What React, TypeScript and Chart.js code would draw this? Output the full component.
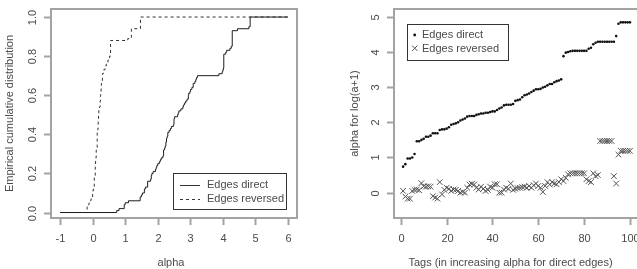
import React, { useEffect, useRef } from "react";
import { Chart, registerables } from "chart.js";
Chart.register(...registerables);

// ---------- data ----------
const directAlpha = [
  0.74, 0.81, 0.97, 0.97, 1.0, 1.1, 1.46, 1.46, 1.5, 1.53,
  1.59, 1.59, 1.62, 1.69, 1.69, 1.69, 1.78, 1.8, 1.8, 1.82,
  1.86, 1.93, 1.95, 1.97, 2.0, 2.05, 2.08, 2.11, 2.16, 2.18,
  2.18, 2.18, 2.21, 2.23, 2.25, 2.25, 2.27, 2.27, 2.29, 2.31,
  2.31, 2.35, 2.39, 2.42, 2.48, 2.5, 2.5, 2.5, 2.52, 2.61,
  2.63, 2.65, 2.71, 2.77, 2.79, 2.82, 2.86, 2.9, 2.94, 2.94,
  2.95, 2.99, 3.01, 3.05, 3.09, 3.09, 3.14, 3.17, 3.19, 3.22,
  3.88, 3.98, 4.0, 4.02, 4.03, 4.03, 4.03, 4.03, 4.03, 4.03,
  4.03, 4.09, 4.12, 4.22, 4.26, 4.29, 4.29, 4.29, 4.29, 4.29,
  4.29, 4.29, 4.29, 4.45, 4.8, 4.84, 4.84, 4.84, 4.84, 4.84,
];
const reversedAlpha = [
  0.05, -0.11, -0.17, -0.17, 0.05, 0.08, 0.09, 0.07, 0.27, 0.18,
  0.17, 0.18, 0.17, -0.1, -0.14, -0.17, 0.3, -0.05, 0.08, 0.14,
  0.11, 0.05, 0.09, 0.08, 0.05, 0.0, 0.02, 0.0, 0.14, 0.23,
  0.25, 0.23, 0.14, 0.09, 0.17, 0.11, 0.05, 0.08, 0.17, 0.14,
  0.24, 0.24, 0.0, 0.0, 0.09, 0.14, 0.11, 0.26, 0.08, 0.11,
  0.13, 0.14, 0.16, 0.17, 0.14, 0.19, 0.14, 0.21, 0.26, 0.19,
  0.14, 0.02, 0.19, 0.3, 0.23, 0.3, 0.26, 0.24, 0.3, 0.38,
  0.33, 0.42, 0.52, 0.55, 0.55, 0.55, 0.55, 0.55, 0.55, 0.55,
  0.38, 0.33, 0.3, 0.55, 0.47, 0.5, 1.47, 1.47, 1.47, 1.47,
  1.47, 1.47, 0.47, 0.26, 1.08, 1.19, 1.19, 1.19, 1.19, 1.19,
];

const ecdfXTicks = [-1, 0, 1, 2, 3, 4, 5, 6];
const ecdfYTicks = [0, 0.2, 0.4, 0.6, 0.8, 1.0];
const ecdfYLabels = ["0.0", "0.2", "0.4", "0.6", "0.8", "1.0"];
const tagTicks = [0, 20, 40, 60, 80, 100];
const alphaTicks = [0, 1, 2, 3, 4, 5];
const seriesNames = ["Edges direct", "Edges reversed"];

// ---------- helpers ----------
const FONT = '11px "Liberation Sans", Arial, sans-serif';
const TEXT = "#4a4a4a";
const AXIS = "#a3a3a3";

function ecdfPoints(values: number[], from: number, to: number) {
  const s = [...values].sort((a, b) => a - b);
  const n = s.length;
  const pts: { x: number; y: number }[] = [{ x: from, y: 0 }];
  for (let i = 0; i < n; i++) {
    if (i + 1 < n && s[i + 1] === s[i]) continue;
    pts.push({ x: s[i], y: (i + 1) / n });
  }
  pts.push({ x: to, y: 1 });
  return pts;
}

type AxesOpts = {
  xTicks: number[];
  xLabels: string[];
  yTicks: number[];
  yLabels: string[];
  xTitle: string;
  xTitleX: number;
  yTitle: string;
  yTitleX: number;
  legend: (ctx: CanvasRenderingContext2D) => void;
};

function rAxes(o: AxesOpts) {
  return {
    id: "rAxes",
    afterDraw(chart: any) {
      const ctx: CanvasRenderingContext2D = chart.ctx;
      const ca = chart.chartArea;
      const xs = chart.scales.x;
      const ys = chart.scales.y;
      ctx.save();
      ctx.strokeStyle = AXIS;
      ctx.lineWidth = 2;
      ctx.strokeRect(ca.left, ca.top, ca.right - ca.left, ca.bottom - ca.top);
      ctx.font = FONT;
      ctx.fillStyle = TEXT;
      // x axis
      ctx.textAlign = "center";
      ctx.textBaseline = "middle";
      o.xTicks.forEach((v, i) => {
        const px = Math.round(xs.getPixelForValue(v)) + 0.5;
        ctx.beginPath();
        ctx.moveTo(px, ca.bottom);
        ctx.lineTo(px, ca.bottom + 7);
        ctx.stroke();
        ctx.fillText(o.xLabels[i], px, 239);
      });
      // y axis
      o.yTicks.forEach((v, i) => {
        const py = Math.round(ys.getPixelForValue(v)) + 0.5;
        ctx.beginPath();
        ctx.moveTo(ca.left - 7, py);
        ctx.lineTo(ca.left, py);
        ctx.stroke();
        ctx.save();
        ctx.translate(ca.left - 18, py);
        ctx.rotate(-Math.PI / 2);
        ctx.fillText(o.yLabels[i], 0, 0);
        ctx.restore();
      });
      // titles
      ctx.fillText(o.xTitle, o.xTitleX, 263);
      ctx.save();
      ctx.translate(o.yTitleX, (ca.top + ca.bottom) / 2);
      ctx.rotate(-Math.PI / 2);
      ctx.fillText(o.yTitle, 0, 0);
      ctx.restore();
      o.legend(ctx);
      ctx.restore();
    },
  };
}

function useChart(ref: React.RefObject<HTMLCanvasElement>, make: (c: HTMLCanvasElement) => Chart) {
  useEffect(() => {
    if (!ref.current) return;
    const ch = make(ref.current);
    return () => ch.destroy();
  }, []);
}

export default function App() {
  const leftRef = useRef<HTMLCanvasElement>(null);
  const rightRef = useRef<HTMLCanvasElement>(null);

  useChart(leftRef, (canvas) =>
    new Chart(canvas, {
      type: "scatter",
      data: {
        datasets: [
          {
            label: seriesNames[0],
            data: ecdfPoints(directAlpha, -1, 6),
            showLine: true,
            stepped: "before",
            borderColor: "#1e1e1e",
            borderWidth: 1,
            pointRadius: 0,
            fill: false,
          },
          {
            label: seriesNames[1],
            data: ecdfPoints(reversedAlpha, -1, 6),
            showLine: true,
            stepped: "before",
            borderColor: "#333",
            borderWidth: 1,
            borderDash: [3, 3],
            pointRadius: 0,
            fill: false,
          },
        ],
      },
      options: {
        animation: false,
        responsive: false,
        devicePixelRatio: 1,
        events: [],
        layout: { padding: { left: 51, right: 21, top: 9, bottom: 51 } },
        plugins: { legend: { display: false }, tooltip: { enabled: false } },
        scales: {
          x: { type: "linear", min: -1.28, max: 6.28, display: false },
          y: { type: "linear", min: -0.028, max: 1.041, display: false },
        },
      },
      plugins: [
        rAxes({
          xTicks: ecdfXTicks,
          xLabels: ecdfXTicks.map(String),
          yTicks: ecdfYTicks,
          yLabels: ecdfYLabels,
          xTitle: "alpha",
          xTitleX: 171,
          yTitle: "Empirical cumulative distribution",
          yTitleX: 10,
          legend: (ctx) => {
            ctx.strokeStyle = "#333";
            ctx.lineWidth = 1;
            ctx.strokeRect(173.5, 173.5, 113, 36);
            ctx.beginPath();
            ctx.moveTo(180, 185.5);
            ctx.lineTo(200, 185.5);
            ctx.stroke();
            ctx.setLineDash([3, 3]);
            ctx.beginPath();
            ctx.moveTo(180, 199.5);
            ctx.lineTo(200, 199.5);
            ctx.stroke();
            ctx.setLineDash([]);
            ctx.textAlign = "left";
            ctx.fillText(seriesNames[0], 207, 185);
            ctx.fillText(seriesNames[1], 207, 199);
          },
        }) as any,
      ],
    } as any)
  );

  useChart(rightRef, (canvas) =>
    new Chart(canvas, {
      type: "scatter",
      data: {
        datasets: [
          {
            label: seriesNames[0],
            data: directAlpha.map((v, i) => ({ x: i + 1, y: v })),
            pointStyle: "circle",
            pointRadius: 1.3,
            backgroundColor: "#111",
            borderWidth: 0,
          },
          {
            label: seriesNames[1],
            data: reversedAlpha.map((v, i) => ({ x: i + 1, y: v })),
            pointStyle: "crossRot",
            pointRadius: 4,
            borderColor: "#555",
            borderWidth: 1,
            backgroundColor: "transparent",
          },
        ],
      },
      options: {
        animation: false,
        responsive: false,
        devicePixelRatio: 1,
        events: [],
        layout: { padding: { left: 76, right: 9, top: 9, bottom: 51 } },
        plugins: { legend: { display: false }, tooltip: { enabled: false } },
        scales: {
          x: { type: "linear", min: -2.96, max: 103.96, display: false },
          y: { type: "linear", min: -0.72, max: 5.22, display: false },
        },
      },
      plugins: [
        rAxes({
          xTicks: tagTicks,
          xLabels: tagTicks.map(String),
          yTicks: alphaTicks,
          yLabels: alphaTicks.map(String),
          xTitle: "Tags (in increasing alpha for direct edges)",
          xTitleX: 192.5,
          yTitle: "alpha for log(a+1)",
          yTitleX: 37,
          legend: (ctx) => {
            ctx.strokeStyle = "#333";
            ctx.lineWidth = 1;
            ctx.strokeRect(89.5, 24.5, 101, 36);
            ctx.fillStyle = "#111";
            ctx.beginPath();
            ctx.arc(96.7, 35, 1.4, 0, Math.PI * 2);
            ctx.fill();
            ctx.strokeStyle = "#555";
            ctx.beginPath();
            ctx.moveTo(94, 45.5);
            ctx.lineTo(99.5, 51);
            ctx.moveTo(99.5, 45.5);
            ctx.lineTo(94, 51);
            ctx.stroke();
            ctx.fillStyle = TEXT;
            ctx.textAlign = "left";
            ctx.fillText(seriesNames[0], 104, 35);
            ctx.fillText(seriesNames[1], 104, 48.5);
          },
        }) as any,
      ],
    } as any)
  );

  return (
    <div
      style={{
        position: "fixed",
        left: 0,
        top: 0,
        width: 637,
        height: 269,
        overflow: "hidden",
        background: "#fff",
      }}
    >
      <canvas
        ref={leftRef}
        width={318}
        height={269}
        style={{ position: "absolute", left: 0, top: 0, width: 318, height: 269 }}
      />
      <canvas
        ref={rightRef}
        width={330}
        height={269}
        style={{ position: "absolute", left: 318, top: 0, width: 330, height: 269 }}
      />
    </div>
  );
}
